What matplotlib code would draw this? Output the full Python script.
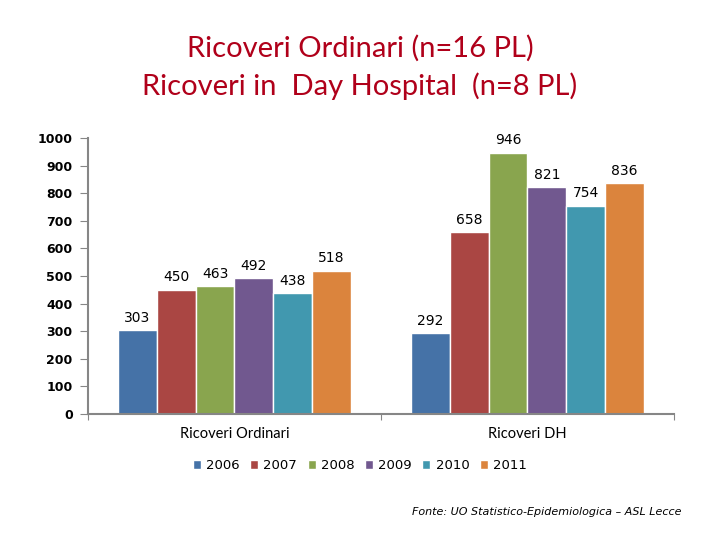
import matplotlib
matplotlib.use("Agg")
import matplotlib.pyplot as plt
import numpy as np

categories = ["Ricoveri Ordinari", "Ricoveri DH"]
years = ["2006", "2007", "2008", "2009", "2010", "2011"]
values = {
    "2006": [303, 292],
    "2007": [450, 658],
    "2008": [463, 946],
    "2009": [492, 821],
    "2010": [438, 754],
    "2011": [518, 836],
}
colors = ['#4572A7', '#AA4643', '#89A54E', '#71588F', '#4198AF', '#DB843D']
yticks = [0, 100, 200, 300, 400, 500, 600, 700, 800, 900, 1000]

fig = plt.figure(figsize=(7.2, 5.4), dpi=100)
ax = fig.add_axes([0.1222, 0.2333, 0.8139, 0.5111])

x = np.arange(len(categories))
bw = 0.1325
n = len(years)
for i, (yr, c) in enumerate(zip(years, colors)):
    pos = x + (i - (n - 1) / 2) * bw
    ax.bar(pos, values[yr], width=bw, color=c, edgecolor='white', linewidth=1.0, label=yr, zorder=2)
    for p, v in zip(pos, values[yr]):
        ax.annotate(str(v), (p, v), xytext=(0, 4), textcoords='offset points',
                    ha='center', va='bottom', fontsize=10, color='black', family='DejaVu Sans')

ax.set_xlim(-0.5, 1.5)
ax.set_ylim(0, 1000)
ax.set_yticks(yticks)
ax.set_yticklabels([str(t) for t in yticks], fontsize=9, fontweight='bold', family='DejaVu Sans')
ax.set_xticks([-0.5, 0.5, 1.5])
ax.set_xticklabels([])
ax.tick_params(axis='y', direction='out', length=6, color='#868686', pad=5)
ax.tick_params(axis='x', direction='out', length=4, color='#868686')
for s in ['top', 'right']:
    ax.spines[s].set_visible(False)
for s in ['left', 'bottom']:
    ax.spines[s].set_color('#868686')
    ax.spines[s].set_linewidth(1.5)

for xi, cat in zip(x, categories):
    ax.text(xi, -0.072, cat, transform=ax.get_xaxis_transform(), ha='center', va='center',
            fontsize=10.5, family='Lato')

ax.legend(loc='upper center', bbox_to_anchor=(0.464, -0.12), ncol=6, frameon=False,
          handlelength=0.6, handleheight=0.6, handletextpad=0.4, columnspacing=0.8,
          prop={'family': 'DejaVu Sans', 'size': 9.5})

fig.text(0.5, 0.911, "Ricoveri Ordinari (n=16 PL)", ha='center', va='center', fontsize=21,
         color='#B0001A', family='Lato')
fig.text(0.5, 0.840, "Ricoveri in  Day Hospital  (n=8 PL)", ha='center', va='center', fontsize=21,
         color='#B0001A', family='Lato')
fig.text(0.947, 0.051, "Fonte: UO Statistico-Epidemiologica – ASL Lecce", ha='right', va='center',
         fontsize=8, style='italic', family='DejaVu Sans')

fig.savefig("out.png", dpi=100, facecolor='white')
